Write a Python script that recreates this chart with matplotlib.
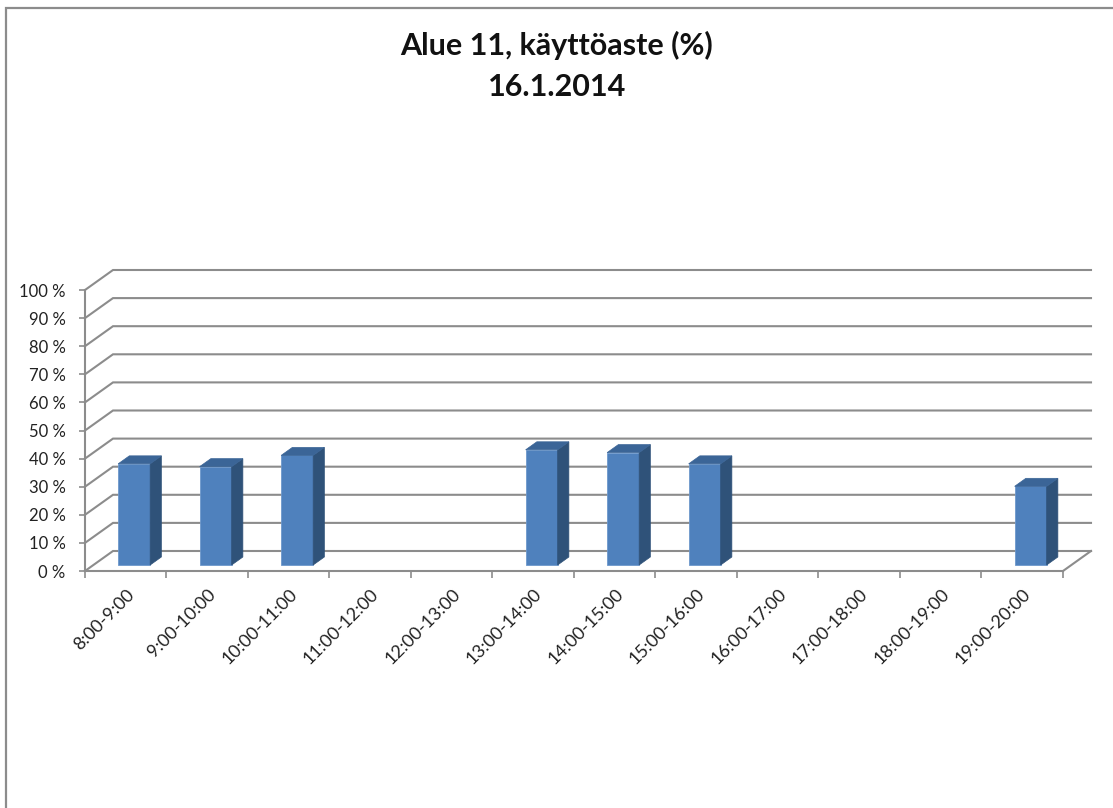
import numpy as np
import matplotlib.pyplot as plt
from matplotlib.patches import Polygon, Rectangle
from matplotlib.transforms import ScaledTranslation

# tuntikohtainen käyttöaste
hours = ["8:00-9:00", "9:00-10:00", "10:00-11:00", "11:00-12:00", "12:00-13:00",
         "13:00-14:00", "14:00-15:00", "15:00-16:00", "16:00-17:00", "17:00-18:00",
         "18:00-19:00", "19:00-20:00"]
usage = [36, 35, 39, 0, 0, 41, 40, 36, 0, 0, 0, 28]
yticks = [0, 10, 20, 30, 40, 50, 60, 70, 80, 90, 100]

plt.rcParams['font.family'] = ['Lato', 'DejaVu Sans']

# vino 3D-projektio: syvyyden siirto x- ja y-suunnassa
DX = 0.3436
DY = 7.12
n = len(hours)
bar_w = 0.393
d0, d1 = 0.3, 0.7  # pylvään etu- ja takataso syvyyssuunnassa

front = "#4f81bd"
side = "#2f5279"
top = "#3b6597"
grid_c = "#8c8c8c"

fig = plt.figure(figsize=(11.13, 8.08), dpi=100)
fig.patches.append(Rectangle((6 / 1113, -0.1), 1.2, (808 - 8) / 808 + 0.1,
                             transform=fig.transFigure, fill=False,
                             edgecolor="#8c8c8c", linewidth=1.6))

ax = fig.add_axes([85 / 1113, (808 - 571) / 808, (1091 - 85) / 1113, (571 - 270) / 808])
ax.set_xlim(0, n + DX)
ax.set_ylim(0, 100 + DY)

# takaseinän ja sivuseinän apuviivat
for v in yticks:
    ax.plot([0, DX, n + DX], [v, v + DY, v + DY], color=grid_c, lw=1.5,
            zorder=1, clip_on=False, solid_joinstyle="miter")
# lattian oikea reuna
ax.plot([n, n + DX], [0, DY], color=grid_c, lw=1.5, zorder=1, clip_on=False)

# pylväät
for i, v in enumerate(usage):
    if v <= 0:
        continue
    xl = i + 0.5 - bar_w / 2 + d0 * DX
    xr = xl + bar_w
    b = d0 * DY
    ddx = (d1 - d0) * DX
    ddy = (d1 - d0) * DY
    ax.bar(xl, v, width=bar_w, bottom=b, align="edge", color=front,
           edgecolor="#6d98cc", linewidth=0.6, zorder=3)
    ax.add_patch(Polygon([(xr, b), (xr + ddx, b + ddy), (xr + ddx, b + v + ddy), (xr, b + v)],
                         closed=True, facecolor=side, edgecolor=side, lw=0.5, zorder=3))
    ax.add_patch(Polygon([(xl, b + v), (xl + ddx, b + v + ddy), (xr + ddx, b + v + ddy), (xr, b + v)],
                         closed=True, facecolor=top, edgecolor=top, lw=0.5, zorder=3))

for s in ["top", "right"]:
    ax.spines[s].set_visible(False)
ax.spines["left"].set_bounds(0, 100)
ax.spines["bottom"].set_bounds(0, n)
for s in ["left", "bottom"]:
    ax.spines[s].set_color(grid_c)
    ax.spines[s].set_linewidth(1.5)

ax.set_yticks(yticks)
ax.set_yticklabels([f"{v} %" for v in yticks], fontsize=12, color="#222222")
ax.tick_params(axis="y", length=4, width=1.2, color=grid_c, pad=10)

ax.set_xticks(np.arange(n + 1))
ax.set_xticklabels([])
ax.tick_params(axis="x", which="major", length=5, width=1.2, color=grid_c)
ax.set_xticks(np.arange(n) + 0.5, minor=True)
ax.set_xticklabels(hours, minor=True, rotation=45, ha="right", va="center",
                   rotation_mode="anchor", fontsize=13, color="#222222")
ax.tick_params(axis="x", which="minor", length=0, pad=15)
shift = ScaledTranslation(6 / 100, 0, fig.dpi_scale_trans)
for lab in ax.get_xticklabels(minor=True):
    lab.set_transform(lab.get_transform() + shift)
ax.set_facecolor("none")

fig.text(557 / 1113, 1 - 45 / 808, "Alue 11, käyttöaste (%)", ha="center", va="center",
         fontsize=22, fontweight="bold", color="#111111")
fig.text(557 / 1113, 1 - 87 / 808, "16.1.2014", ha="center", va="center",
         fontsize=22, fontweight="bold", color="#111111")

fig.savefig("out.png", dpi=100)
